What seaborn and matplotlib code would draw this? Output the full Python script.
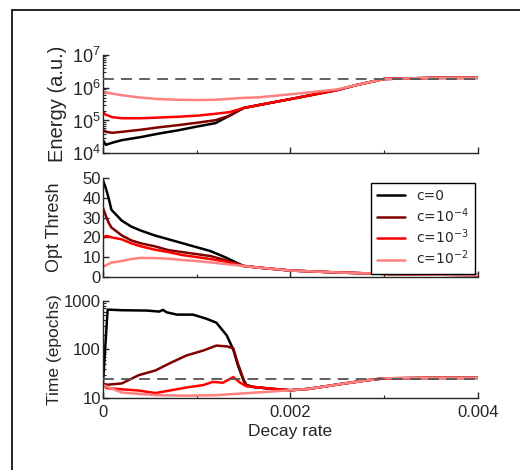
import numpy as np
import pandas as pd
import seaborn as sns
import matplotlib.pyplot as plt
from matplotlib.lines import Line2D
from matplotlib.ticker import FixedLocator, NullFormatter, LogLocator

sns.set_style("ticks")
plt.rcParams['font.family'] = ['Liberation Sans', 'DejaVu Sans']
plt.rcParams['mathtext.default'] = 'regular'
plt.rcParams['xtick.direction'] = 'in'
plt.rcParams['ytick.direction'] = 'in'

labels = ["c=0", r"c=$10^{-4}$", r"c=$10^{-3}$", r"c=$10^{-2}$"]
colors = ["#000000", "#800000", "#ff0000", "#ff8080"]

# Energy (a.u.)
energy_x = [0, 0.00003, 0.0001, 0.0002, 0.0004, 0.0006, 0.0008, 0.001, 0.0012, 0.00135, 0.0015]
energy_black = [2.5e4, 1.8e4, 2.1e4, 2.5e4, 3.1e4, 4.0e4, 5.0e4, 6.5e4, 8.3e4, 1.4e5, 2.4e5]
energy_dark = [5.2e4, 4.5e4, 4.2e4, 4.5e4, 5.2e4, 6.2e4, 7.2e4, 8.5e4, 1.02e5, 1.4e5, 2.4e5]
energy_red = [1.8e5, 1.5e5, 1.26e5, 1.17e5, 1.17e5, 1.23e5, 1.3e5, 1.4e5, 1.6e5, 1.8e5, 2.4e5]
energy_light = [7.4e5, 7.1e5, 6.6e5, 5.9e5, 5.0e5, 4.5e5, 4.3e5, 4.2e5, 4.3e5, 4.6e5, 4.9e5]
energy_tail_x = [0.00166, 0.002, 0.0025, 0.0027, 0.003, 0.0035, 0.004]
energy_tail = [2.95e5, 4.5e5, 8.5e5, 1.2e6, 1.85e6, 2.0e6, 2.0e6]
energy_light_tail = [5.1e5, 6.3e5, 8.9e5, 1.2e6, 1.85e6, 2.0e6, 2.0e6]
energy_ref = 1.9e6

# Opt Thresh
thresh_x = [0, 0.00003, 0.00006, 0.00009, 0.0002, 0.0003, 0.0004, 0.00055, 0.0007,
            0.00085, 0.001, 0.00115, 0.0013, 0.0015]
thresh_black = [49, 45, 40, 34, 28.5, 25.5, 23.5, 21, 19, 17, 15, 13, 10, 5.5]
thresh_dark = [35, 31, 27.5, 25, 21, 18.5, 17, 15.5, 13.5, 12.5, 11.5, 10.5, 8.5, 5.5]
thresh_red = [19.7, 20.7, 20.5, 20, 19, 17, 15.5, 13.8, 12.5, 11, 10, 9, 7.8, 5.5]
thresh_light = [5, 5.8, 6.5, 7.2, 8, 9, 9.6, 9.5, 9.2, 8.5, 8, 7.3, 6.5, 5.5]
thresh_tail_x = [0.0017, 0.002, 0.0025, 0.003, 0.0035, 0.004]
thresh_tail = [4.5, 3.2, 2.2, 1.5, 1.1, 0.9]

# Time (epochs)
time_black_x = [0, 0.00005, 0.0002, 0.00047, 0.0006, 0.00064, 0.00068, 0.00079, 0.00096,
                0.0011, 0.00121, 0.00132, 0.00139, 0.00144, 0.0015, 0.00153, 0.0016, 0.0018, 0.002]
time_black = [20, 660, 640, 630, 600, 650, 580, 520, 520, 430, 355, 195, 100, 47, 23, 18.5, 17, 15.5, 14.5]
time_dark_x = [0, 0.0002, 0.00038, 0.00056, 0.00073, 0.00089, 0.00107, 0.00121, 0.00133,
               0.00139, 0.00144, 0.0015, 0.00153, 0.0016, 0.0018, 0.002]
time_dark = [18.5, 20, 29.5, 37, 54, 75, 95, 120, 115, 105, 51, 24, 18.5, 17, 15.5, 14.5]
time_red_x = [0, 0.00004, 0.00038, 0.00056, 0.00073, 0.00089, 0.00107, 0.00117, 0.00128,
              0.00139, 0.00146, 0.00153, 0.00174, 0.002]
time_red = [20, 16, 14.3, 12.7, 14.5, 16.5, 18.5, 21.5, 20.7, 27, 21, 17.5, 16, 14.5]
time_light_x = [0, 0.0002, 0.00056, 0.00089, 0.00121, 0.00164, 0.002]
time_light = [18.5, 13, 11.5, 11.2, 11.5, 13, 14.5]
time_tail_x = [0.0022, 0.0025, 0.0028, 0.003, 0.0035, 0.004]
time_tail = [15.5, 19, 23, 25.5, 26, 26]
time_ref = 24.5


def frame(xs, ys):
    rows = []
    for lab, x, y in zip(labels, xs, ys):
        rows.append(pd.DataFrame({"x": x, "y": y, "c": lab}))
    return pd.concat(rows, ignore_index=True)


energy_df = frame(
    [energy_x + energy_tail_x] * 4,
    [energy_black + energy_tail, energy_dark + energy_tail,
     energy_red + energy_tail, energy_light + energy_light_tail])
thresh_df = frame(
    [thresh_x + thresh_tail_x] * 4,
    [thresh_black + thresh_tail, thresh_dark + thresh_tail,
     thresh_red + thresh_tail, thresh_light + thresh_tail])
time_df = frame(
    [time_black_x + time_tail_x, time_dark_x + time_tail_x,
     time_red_x + time_tail_x, time_light_x + time_tail_x],
    [time_black + time_tail, time_dark + time_tail,
     time_red + time_tail, time_light + time_tail])

palette = dict(zip(labels, colors))

fig = plt.figure(figsize=(5.2, 4.7), dpi=100)
ax1 = fig.add_axes([0.198, 0.674, 0.721, 0.209])
ax2 = fig.add_axes([0.198, 0.411, 0.721, 0.210])
ax3 = fig.add_axes([0.198, 0.153, 0.721, 0.207])

for ax, df in [(ax1, energy_df), (ax2, thresh_df), (ax3, time_df)]:
    sns.lineplot(data=df, x="x", y="y", hue="c", hue_order=labels, palette=palette,
                 lw=1.8, legend=False, ax=ax, estimator=None, sort=False)
    sns.despine(ax=ax)
    ax.set_xlim(0, 0.004)
    ax.xaxis.set_major_locator(FixedLocator([0, 0.002, 0.004]))
    ax.xaxis.set_minor_locator(FixedLocator([0.001, 0.003]))
    ax.tick_params(which='major', length=4, width=1, labelsize=12)
    ax.tick_params(axis='y', which='major', pad=1.5)
    ax.tick_params(axis='x', which='major', pad=5)
    ax.tick_params(which='minor', length=2, width=0.8)
    ax.set_xlabel("")
    for s in ["left", "bottom"]:
        ax.spines[s].set_linewidth(1.0)

ax1.axhline(energy_ref, color="#555555", ls=(0, (6, 4)), lw=1.3, zorder=5)
ax3.axhline(time_ref, color="#555555", ls=(0, (6, 4)), lw=1.3, zorder=5)

ax1.set_yscale("log")
ax1.set_ylim(1e4, 1e7)
ax1.yaxis.set_major_locator(LogLocator(base=10, numticks=10))
ax1.yaxis.set_minor_locator(LogLocator(base=10, subs=np.arange(2, 10), numticks=10))
ax1.yaxis.set_minor_formatter(NullFormatter())
ax1.set_ylabel("Energy (a.u.)", fontsize=14.5)
ax1.tick_params(axis='x', labelbottom=False)
ax1.tick_params(axis='y', which='major', labelsize=13)

ax2.set_ylim(0, 50)
ax2.set_yticks([0, 10, 20, 30, 40, 50])
ax2.set_ylabel("Opt Thresh", fontsize=13)
ax2.tick_params(axis='x', labelbottom=False)
ax2.legend(ax2.lines[:4], labels, loc="upper right", bbox_to_anchor=(0.992, 0.95),
           borderaxespad=0, frameon=True, fancybox=False, edgecolor="black", framealpha=1,
           prop={"family": "DejaVu Sans", "size": 10}, handlelength=2.0,
           labelspacing=0.2, borderpad=0.45)
ax2.get_legend().get_frame().set_linewidth(1.0)

ax3.set_yscale("log")
ax3.set_ylim(10, 1000)
ax3.set_yticks([10, 100, 1000])
ax3.set_yticklabels(["10", "100", "1000"])
ax3.yaxis.set_minor_locator(LogLocator(base=10, subs=np.arange(2, 10), numticks=10))
ax3.yaxis.set_minor_formatter(NullFormatter())
ax3.set_ylabel("Time (epochs)", fontsize=12.5)
ax3.set_xticklabels(["0", "0.002", "0.004"])
ax3.set_xlabel("Decay rate", fontsize=12.5, labelpad=3)

ax1.yaxis.set_label_coords(-0.096, 0.5)
ax2.yaxis.set_label_coords(-0.107, 0.5)
ax3.yaxis.set_label_coords(-0.109, 0.5)

# partial outer frame
fig.add_artist(Line2D([12 / 520, 12 / 520], [0, 1 - 9.5 / 470], color="black", lw=1.2,
                      transform=fig.transFigure))
fig.add_artist(Line2D([12 / 520, 1], [1 - 9.5 / 470, 1 - 9.5 / 470], color="black", lw=1.2,
                      transform=fig.transFigure))

fig.savefig("out.png", dpi=100)
